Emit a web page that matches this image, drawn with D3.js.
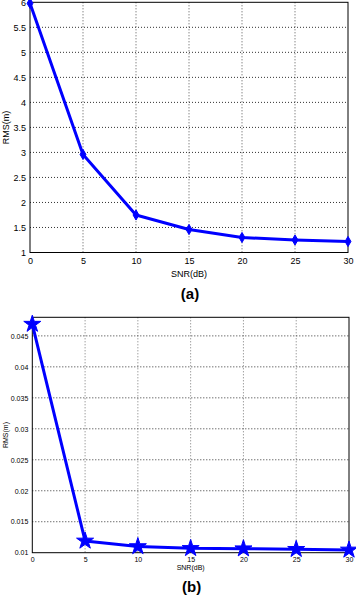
<!DOCTYPE html>
<html><head><meta charset="utf-8">
<script src="https://cdn.jsdelivr.net/npm/d3@7"></script>
<style>body{margin:0;background:#fff}svg{display:block}text{font-family:"Liberation Sans",Arial,sans-serif}</style>
</head><body>
<script>
const snr = [0, 5, 10, 15, 20, 25, 30];
const rmsA = [5.98, 2.96, 1.75, 1.46, 1.30, 1.25, 1.22];
const rmsB = [0.0469, 0.0119, 0.0110, 0.0107, 0.01065, 0.01055, 0.01045];
const xTicks = [0, 5, 10, 15, 20, 25, 30];
const yTicksA = [1, 1.5, 2, 2.5, 3, 3.5, 4, 4.5, 5, 5.5, 6];
const yTicksB = [0.01, 0.015, 0.02, 0.025, 0.03, 0.035, 0.04, 0.045];

const svg = d3.select("body").append("svg").attr("width", 356).attr("height", 597);

function panel(o) {
  const g = svg.append("g");
  const x = d3.scaleLinear().domain([0, 30]).range([o.left, o.right]);
  const y = d3.scaleLinear().domain(o.ydom).range([o.bottom, o.top]);
  // grid
  g.selectAll(".vg").data(xTicks.slice(1, -1)).join("line")
    .attr("x1", d => x(d)).attr("x2", d => x(d)).attr("y1", o.top).attr("y2", o.bottom)
    .attr("stroke", o.vgrid).attr("stroke-width", 1).attr("stroke-dasharray", "1,2");
  g.selectAll(".hg").data(o.yticks.filter(d => d > o.ydom[0] && d < o.ydom[1])).join("line")
    .attr("x1", o.left).attr("x2", o.right).attr("y1", d => y(d)).attr("y2", d => y(d))
    .attr("stroke", "#333").attr("stroke-width", 1).attr("stroke-dasharray", "1,2");
  // axes
  const xa = g.append("g").attr("transform", `translate(0,${o.bottom})`)
    .call(d3.axisBottom(x).tickValues(xTicks).tickSize(0).tickPadding(o.xpad).tickFormat(d3.format("d")));
  xa.select(".domain").remove();
  xa.selectAll("text").attr("font-size", o.fs).attr("fill", "#000");
  const ya = g.append("g").attr("transform", `translate(${o.left},0)`)
    .call(d3.axisLeft(y).tickValues(o.yticks).tickSize(0).tickPadding(o.ypad).tickFormat(d => String(+d.toFixed(4))));
  ya.select(".domain").remove();
  ya.selectAll("text").attr("font-size", o.fs).attr("fill", "#000");
  g.append("rect").attr("x", o.left).attr("y", o.top).attr("width", o.right - o.left).attr("height", o.bottom - o.top)
    .attr("fill", "none").attr("stroke", "#000").attr("stroke-width", 1);
  // line
  g.append("path").datum(o.vals).attr("fill", "none").attr("stroke", "#0000ff").attr("stroke-width", 3)
    .attr("stroke-linejoin", "round")
    .attr("d", d3.line().x((d, i) => x(snr[i])).y(d => y(d)));
  g.selectAll(".mk").data(o.vals).join("path")
    .attr("transform", (d, i) => `translate(${x(snr[i])},${y(d)})`)
    .attr("d", d3.symbol().type(o.sym).size(o.symSize))
    .attr("fill", "#0000ff").attr("stroke", "#0000ff").attr("stroke-width", 1);
  // labels
  g.append("text").attr("x", (o.left + o.right) / 2).attr("y", o.xlabY).attr("text-anchor", "middle")
    .attr("font-size", o.fs).text("SNR(dB)");
  g.append("text").attr("transform", `translate(${o.ylabX},${(o.top + o.bottom) / 2}) rotate(-90)`)
    .attr("text-anchor", "middle").attr("font-size", o.fs).text("RMS(m)");
  g.append("text").attr("x", (o.left + o.right) / 2 + 1).attr("y", o.capY).attr("text-anchor", "middle")
    .attr("font-size", 15).attr("font-weight", "bold").text(o.cap);
}

panel({left: 30, right: 348, top: 2.3, bottom: 252.5, ydom: [1, 6], yticks: yTicksA, vals: rmsA,
  vgrid: "#555", fs: 9, xpad: 5, ypad: 4, xlabY: 277, ylabX: 9, capY: 299, cap: "(a)",
  sym: d3.symbolDiamond, symSize: 30});
panel({left: 32.3, right: 349, top: 317.3, bottom: 552.7, ydom: [0.01, 0.048], yticks: yTicksB, vals: rmsB,
  vgrid: "#777", fs: 7, xpad: 4, ypad: 4, xlabY: 570, ylabX: 8, capY: 592, cap: "(b)",
  sym: d3.symbolStar, symSize: 90});
</script>
</body></html>
